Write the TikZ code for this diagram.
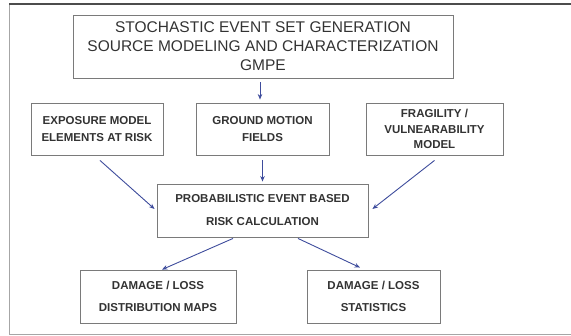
\documentclass[tikz,border=0pt]{standalone}
\usepackage{fontspec}
\setmainfont{Liberation Sans}
\usetikzlibrary{arrows.meta}
\definecolor{boxline}{HTML}{7A7A7A}
\definecolor{boxtext}{HTML}{333333}
\definecolor{flow}{HTML}{3E4C9C}

\begin{document}
\begin{tikzpicture}[x=1pt, y=-1pt, >={Stealth[length=5.5pt, width=4.5pt]},
    box/.style={draw=boxline, line width=0.9pt, fill=white, text=boxtext, align=center, inner sep=0pt},
    small/.style={font=\fontsize{11.5}{17}\selectfont\bfseries},
    flowarrow/.style={draw=flow, line width=0.9pt, ->}]
  \useasboundingbox (0,0) rectangle (571,336);
  % outer frame
  \draw[gray!70, line width=0.8pt] (580,334) -- (9,334) -- (9,4);
  \draw[black!70, line width=1.2pt] (9,4) -- (580,4);

  \node[box, minimum width=380pt, minimum height=63pt, font=\fontsize{15.5}{19}\selectfont] (gen) at (263,46.5)
    {STOCHASTIC EVENT SET GENERATION\\SOURCE MODELING AND CHARACTERIZATION\\GMPE};

  \node[box, small, minimum width=132pt, minimum height=52pt] (expo) at (97,129)
    {EXPOSURE MODEL\\ELEMENTS AT RISK};
  \node[box, small, minimum width=133pt, minimum height=52pt] (gmf) at (262.5,129)
    {GROUND MOTION\\FIELDS};
  \node[box, small, minimum width=137pt, minimum height=52pt, font=\fontsize{11.5}{15.5}\selectfont\bfseries] (frag) at (434.5,129)
    {FRAGILITY /\\VULNEARABILITY\\MODEL};

  \node[box, small, minimum width=211pt, minimum height=53pt, font=\fontsize{11.5}{23}\selectfont\bfseries] (risk) at (262.5,210.5)
    {PROBABILISTIC EVENT BASED\\RISK CALCULATION};

  \node[box, small, minimum width=156pt, minimum height=53pt, font=\fontsize{11.5}{22}\selectfont\bfseries] (maps) at (158,296.5)
    {DAMAGE / LOSS\\DISTRIBUTION MAPS};
  \node[box, small, minimum width=133pt, minimum height=53pt, font=\fontsize{11.5}{22}\selectfont\bfseries] (stats) at (373.5,296.5)
    {DAMAGE / LOSS\\STATISTICS};

  \draw[flowarrow] ([xshift=-3pt, yshift=-4pt]gen.south) -- ([xshift=-2.5pt, yshift=3pt]gmf.north);
  \draw[flowarrow] ([yshift=-5pt]gmf.south) -- ([yshift=2pt]risk.north);
  \draw[flowarrow] ([xshift=3pt, yshift=-5pt]expo.south) -- ([xshift=-2pt, yshift=1.5pt]risk.west);
  \draw[flowarrow] ([yshift=-5pt]frag.south) -- ([xshift=4pt, yshift=1.5pt]risk.east);
  \draw[flowarrow] ([xshift=-29.5pt, yshift=-1pt]risk.south) -- ([xshift=4pt]maps.north);
  \draw[flowarrow] ([xshift=35.5pt, yshift=-1pt]risk.south) -- ([xshift=-13.5pt, yshift=2pt]stats.north);
\end{tikzpicture}
\end{document}
